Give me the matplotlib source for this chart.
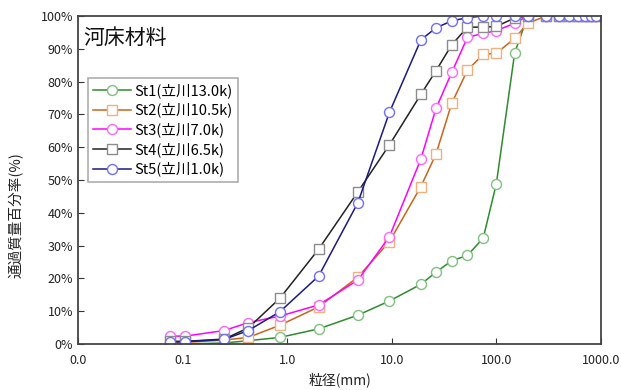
import matplotlib
matplotlib.use("Agg")
import matplotlib.pyplot as plt
from matplotlib.ticker import FixedLocator, FuncFormatter, NullLocator

plt.rcParams['font.family'] = ['Noto Sans CJK JP', 'DejaVu Sans']

# ふるい目 (mm)
sizes = [0.075, 0.106, 0.25, 0.425, 0.85, 2, 4.75, 9.5, 19, 26.5, 37.5, 53, 75,
         100, 150, 200, 300, 400, 500, 600, 700, 800, 900]

# 通過質量百分率 (%)
st1 = [0.0, 0.0, 0.3, 1.0, 2.0, 4.6, 8.8, 13.1, 18.2, 21.9, 25.4, 27.0, 32.3,
       48.8, 88.8, 100, 100, 100, 100, 100, 100, 100, 100]
st2 = [0.5, 0.5, 1.2, 2.0, 5.7, 11.3, 20.4, 31.2, 48.0, 57.9, 73.4, 83.5, 88.3,
       88.6, 93.2, 97.8, 100, 100, 100, 100, 100, 100, 100]
st3 = [2.4, 2.4, 4.1, 6.5, 8.5, 11.9, 19.5, 32.7, 56.4, 71.8, 82.8, 93.5, 94.7,
       95.5, 97.8, 100, 100, 100, 100, 100, 100, 100, 100]
st4 = [0.8, 0.8, 1.5, 4.9, 13.9, 28.9, 46.4, 60.7, 76.1, 83.3, 91.2, 96.6, 96.6,
       96.8, 99.4, 100, 100, 100, 100, 100, 100, 100, 100]
st5 = [0.7, 0.7, 1.4, 4.1, 9.8, 20.7, 43.1, 70.6, 92.7, 96.4, 98.5, 99.5, 100,
       100, 100, 100, 100, 100, 100, 100, 100, 100, 100]

labels = ['St1(立川13.0k)', 'St2(立川10.5k)', 'St3(立川7.0k)',
          'St4(立川6.5k)', 'St5(立川1.0k)']
series = [st1, st2, st3, st4, st5]
line_colors = ['#2e8b2e', '#c8641e', '#ff00ff', '#222222', '#1a1a80']
marker_colors = ['#80c080', '#f0b080', '#ff66ff', '#8c8c8c', '#6e6eff']
markers = ['o', 's', 'o', 's', 'o']

fig = plt.figure(figsize=(6.21, 3.90), dpi=100)
ax = fig.add_axes([0.1256, 0.118, 0.842, 0.841])

for y, lab, lc, mc, mk in zip(series, labels, line_colors, marker_colors, markers):
    ax.plot(sizes, y, color=lc, lw=1.1, marker=mk,
            ms=7.2 if mk == 'o' else 6.8, mfc='white', mec=mc, mew=1.0, label=lab)

ax.set_xscale('log')
ax.set_xlim(0.01, 1000)
ax.set_ylim(0, 100)
ax.xaxis.set_major_locator(FixedLocator([0.01, 0.1, 1, 10, 100, 1000]))
ax.xaxis.set_minor_locator(NullLocator())
ax.xaxis.set_major_formatter(FuncFormatter(lambda v, p: f'{v:.1f}'))
ax.set_yticks(range(0, 101, 10))
ax.yaxis.set_major_formatter(FuncFormatter(lambda v, p: f'{int(v)}%'))
ax.tick_params(direction='in', length=4, width=0.8, colors='#333333',
               labelsize=9, labelcolor='#222222')
ax.tick_params(axis='x', pad=7)

for s in ax.spines.values():
    s.set_color('#444444')
    s.set_linewidth(1.3)

ax.set_xlabel('粒径(mm)', fontsize=10, color='#222222', labelpad=4)
ax.set_ylabel('通過質量百分率(%)', fontsize=10.5, color='#222222')
ax.yaxis.set_label_coords(-0.103, 0.393)

# 図中タイトル
ax.text(0.011, 0.933, '河床材料', transform=ax.transAxes, fontsize=15,
        color='#111111', ha='left', va='center')

leg = ax.legend(loc='upper left', bbox_to_anchor=(0.019, 0.811), borderaxespad=0,
                fontsize=10.5, handlelength=2.6, labelspacing=0.33,
                handletextpad=0.25, borderpad=0.35, frameon=True, fancybox=False)
leg.get_frame().set_edgecolor('#999999')
leg.get_frame().set_linewidth(1.2)

fig.savefig('out.png', dpi=100)
